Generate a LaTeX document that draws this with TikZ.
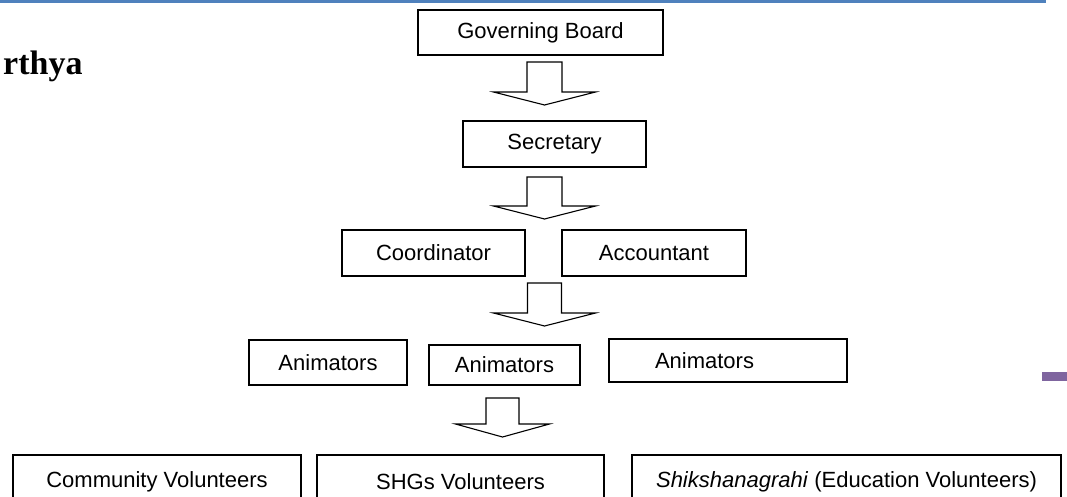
\documentclass[tikz,border=0pt]{standalone}
\usepackage{fontspec}
\setmainfont{Liberation Sans}
\newfontfamily\titlefont{Liberation Serif}
\usetikzlibrary{calc}
\definecolor{headerblue}{HTML}{4F81BD}
\definecolor{markpurple}{HTML}{7F659F}
\tikzset{
	orgbox/.style n args={2}{draw, line width=1.3pt, minimum width=#1, minimum height=#2, inner sep=0pt, font=\fontsize{22}{25}\selectfont},
	arrowline/.style={draw, line width=1.1pt, line join=miter, fill=white}
}
\newcommand{\hollowarrow}[4]{%
	\draw [arrowline] ($(#1)+(-#3,0)$) -- ($(#2)+(-#3,-13)$) -- ($(#2)+(-#4,-13)$) -- (#2) -- ($(#2)+(#4,-13)$) -- ($(#2)+(#3,-13)$) -- ($(#1)+(#3,0)$) -- cycle;}

\begin{document}
\begin{tikzpicture}[x=1pt, y=-1pt]
				\useasboundingbox (0, 0) rectangle (1067, 496);
				\clip (0, 0) rectangle (1067, 496);
				\fill [headerblue] (0, 0) rectangle (1046, 3);
				\fill [markpurple] (1042, 372) rectangle (1067, 381);
				\node [anchor=base west, inner sep=0pt, font=\titlefont\bfseries\fontsize{34}{40}\selectfont] (title) at (3, 74) {rthya};

				\node [orgbox={245pt}{45pt}] (board) at (540.5, 32.5) {Governing Board};
				\node [orgbox={183pt}{46pt}] (secretary) at (554.5, 144) {Secretary};
				\node [orgbox={183pt}{46pt}] (coordinator) at (433.5, 253) {Coordinator};
				\node [orgbox={184pt}{46pt}] (accountant) at (654, 253) {Accountant};

				\node [orgbox={158pt}{45pt}] (anim1) at (328, 362.5) {Animators};
				\node [orgbox={151pt}{40pt}] (anim2) at (504.5, 365) {Animators};
				\node [orgbox={238pt}{43pt}, text width=238pt, align=left] (anim3) at (728, 360.5) {\hspace*{46pt}Animators};

				\node [orgbox={288pt}{54pt}] (community) at (157, 482) {Community Volunteers};
				\node [orgbox={287pt}{54pt}] (shg) at (460.5, 482) {SHGs Volunteers};
				\node [orgbox={429pt}{54pt}] (education) at (846.5, 482) {\textit{Shikshanagrahi} (Education Volunteers)};

				\coordinate (a1top) at (544.5, 62);
				\coordinate (a1tip) at (544.5, 105);
				\coordinate (a2top) at (544.5, 177);
				\coordinate (a2tip) at (544.5, 219);
				\coordinate (a3top) at (544.5, 283);
				\coordinate (a3tip) at (544.5, 326);
				\coordinate (a4top) at (502.5, 398);
				\coordinate (a4tip) at (502.5, 437);
				\hollowarrow{a1top}{a1tip}{17.5}{51}
				\hollowarrow{a2top}{a2tip}{17.5}{51}
				\hollowarrow{a3top}{a3tip}{17}{51}
				\hollowarrow{a4top}{a4tip}{16.5}{47}
			\end{tikzpicture}
\end{document}
